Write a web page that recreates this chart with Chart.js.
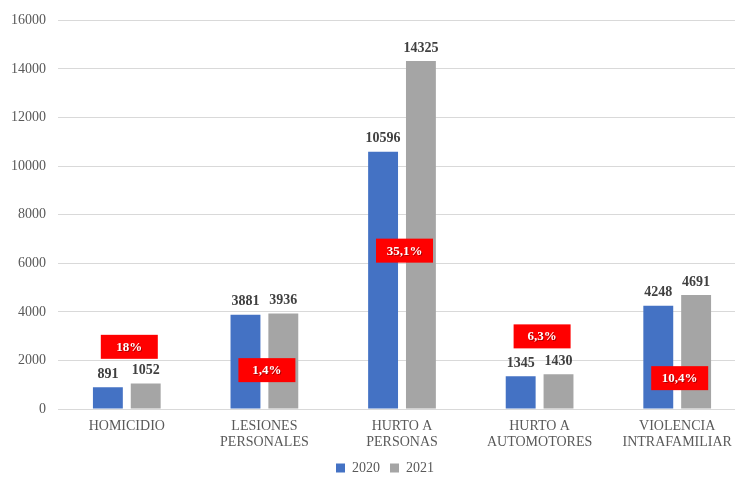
<!DOCTYPE html>
<html>
<head>
<meta charset="utf-8">
<script src="https://cdn.jsdelivr.net/npm/chart.js@4/dist/chart.umd.min.js"></script>
<style>
  html,body{margin:0;padding:0;background:#fff;overflow:hidden;}
  #wrap{width:766px;height:477px;}
</style>
</head>
<body>
<div id="wrap"><canvas id="chart" width="766" height="477"></canvas></div>
<script>
//DATA
const categories=[['HOMICIDIO'],['LESIONES','PERSONALES'],['HURTO A','PERSONAS'],['HURTO A','AUTOMOTORES'],['VIOLENCIA','INTRAFAMILIAR']];
const values2020=[891,3881,10596,1345,4248];
const values2021=[1052,3936,14325,1430,4691];
const changeLabels=['18%','1,4%','35,1%','6,3%','10,4%'];
// where each red box sits, in data units of the y axis
const changeAt=[2560,1600,6520,2990,1270];

const SERIF="'Liberation Serif','Times New Roman',serif";

//BAR VALUE LABELS
const valueLabels={
    id:'valueLabels',
    afterDatasetsDraw(chart){
        const c=chart.ctx;
        c.save();
        c.font='bold 14px '+SERIF;
        c.fillStyle='#404040';
        c.textAlign='center';
        c.textBaseline='bottom';
        chart.data.datasets.forEach((ds,i)=>{
            chart.getDatasetMeta(i).data.forEach((bar,j)=>{
                c.fillText(ds.data[j],bar.x,bar.y-6);
            });
        });
        c.restore();
    }
};

//RED CHANGE BOXES
const changeBoxes={
    id:'changeBoxes',
    afterDatasetsDraw(chart){
        const c=chart.ctx;
        const xs=chart.scales.x, ys=chart.scales.y;
        c.save();
        changeLabels.forEach((txt,i)=>{
            const cx=xs.getPixelForValue(i)+2;
            const cy=ys.getPixelForValue(changeAt[i]);
            c.fillStyle='#ff0000';
            c.fillRect(cx-28,cy-12,57,24);
            c.font='bold 13px '+SERIF;
            c.textAlign='center';
            c.textBaseline='middle';
            c.fillStyle='rgba(0,0,0,0.35)';
            c.fillText(txt,cx+1.5,cy+1.5);
            c.fillStyle='#ffffff';
            c.fillText(txt,cx+0.5,cy+0.5);
        });
        c.restore();
    }
};

//nudge legend to sit where the original has it
const legendShift={
    id:'legendShift',
    afterLayout(chart){
        if(chart.legend){chart.legend.left+=12;chart.legend.right+=12;}
    }
};

const ctx=document.getElementById('chart').getContext('2d');
new Chart(ctx,{
    type:'bar',
    data:{
        labels:categories,
        datasets:[
            {label:'2020',data:values2020,backgroundColor:'#4472C4',borderWidth:0,categoryPercentage:0.55,barPercentage:0.79},
            {label:'2021',data:values2021,backgroundColor:'#A5A5A5',borderWidth:0,categoryPercentage:0.55,barPercentage:0.79}
        ]
    },
    options:{
        responsive:false,
        animation:false,
        layout:{padding:{top:12,right:20,left:0,bottom:-8}},
        plugins:{
            tooltip:{enabled:false},
            legend:{
                position:'bottom',
                labels:{boxWidth:9,boxHeight:9,padding:10,color:'#595959',font:{family:SERIF,size:14}}
            }
        },
        scales:{
            x:{
                grid:{display:false,drawTicks:false},
                border:{color:'#d9d9d9'},
                ticks:{color:'#595959',font:{family:SERIF,size:14,lineHeight:1.15},padding:9,maxRotation:0,autoSkip:false},
                afterFit(scale){scale.height=42;}
            },
            y:{
                min:0,max:16000,
                grid:{color:'#d9d9d9',drawTicks:false},
                border:{display:false},
                ticks:{stepSize:2000,color:'#595959',font:{family:SERIF,size:14},padding:12,callback:v=>String(v)},
                afterFit(scale){scale.width=58;}
            }
        }
    },
    plugins:[valueLabels,changeBoxes,legendShift]
});
</script>
</body>
</html>
